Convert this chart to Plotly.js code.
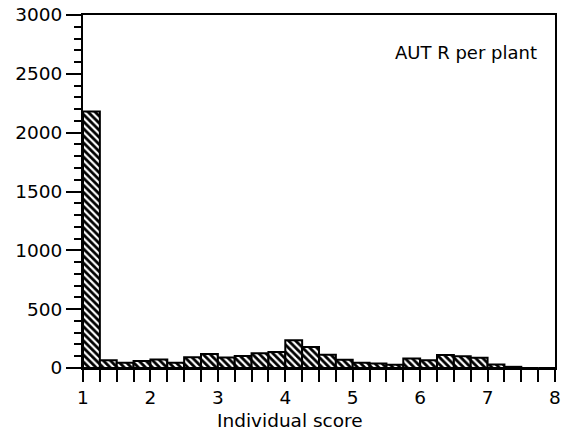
<!DOCTYPE html>
<html>
<head>
<meta charset="utf-8">
<script src="https://cdn.plot.ly/plotly-3.0.1.min.js"></script>
<style>
html,body{margin:0;padding:0;background:#fff;}
#chart{width:568px;height:439px;}
</style>
</head>
<body>
<div id="chart"></div>
<script>
// Bin centres (individual score) and counts
var binCentres = [1.125, 1.375, 1.625, 1.875, 2.125, 2.375, 2.625, 2.875,
                  3.125, 3.375, 3.625, 3.875, 4.125, 4.375, 4.625, 4.875,
                  5.125, 5.375, 5.625, 5.875, 6.125, 6.375, 6.625, 6.875,
                  7.125, 7.375, 7.625, 7.875];
var counts = [2180, 65, 45, 60, 72, 45, 92, 118,
              90, 102, 125, 137, 235, 178, 112, 70,
              45, 38, 28, 80, 65, 110, 100, 88,
              30, 10, 0, 0];
var xTickVals = [1, 2, 3, 4, 5, 6, 7, 8];
var xTickText = ['1', '2', '3', '4', '5', '6', '7', '8'];
var yTickVals = [0, 500, 1000, 1500, 2000, 2500, 3000];
var yTickText = ['0', '500', '1000', '1500', '2000', '2500', '3000'];
var panelLabel = 'AUT R per plant';
var xTitle = 'Individual score';

var FONT = 'DejaVu Sans, Arial, sans-serif';

var trace = {
  type: 'bar',
  x: binCentres,
  y: counts,
  width: 0.25,
  marker: {
    color: '#ffffff',
    line: {color: '#000000', width: 2},
    pattern: {shape: '\\', fgcolor: '#000000', bgcolor: '#ffffff', size: 5, solidity: 0.55}
  },
  hoverinfo: 'x+y'
};

var layout = {
  width: 568,
  height: 439,
  margin: {l: 83, r: 13, t: 15, b: 71},
  paper_bgcolor: '#ffffff',
  plot_bgcolor: '#ffffff',
  showlegend: false,
  bargap: 0,
  font: {family: FONT, size: 18.5, color: '#000'},
  xaxis: {
    range: [1, 8],
    tickmode: 'array',
    tickvals: xTickVals,
    ticktext: xTickText,
    ticks: 'outside',
    ticklen: 12,
    tickwidth: 2,
    tickcolor: '#000',
    minor: {dtick: 0.25, tick0: 1, ticks: 'outside', ticklen: 12, tickwidth: 2, tickcolor: '#000', showgrid: false},
    showgrid: false,
    zeroline: false,
    showline: true,
    linecolor: '#000',
    linewidth: 2,
    mirror: true,
    tickfont: {family: FONT, size: 18.5, color: '#000'}
  },
  yaxis: {
    range: [0, 3000],
    tickmode: 'array',
    tickvals: yTickVals,
    ticktext: yTickText,
    ticks: 'outside',
    ticklen: 15,
    tickwidth: 2,
    tickcolor: '#000',
    minor: {dtick: 100, tick0: 0, ticks: 'outside', ticklen: 7, tickwidth: 2, tickcolor: '#000', showgrid: false},
    showgrid: false,
    zeroline: false,
    showline: true,
    linecolor: '#000',
    linewidth: 2,
    mirror: true,
    tickfont: {family: FONT, size: 18.5, color: '#000'}
  },
  annotations: [
    {
      text: panelLabel,
      xref: 'paper', yref: 'paper',
      x: 0.967, y: 0.895,
      xanchor: 'right', yanchor: 'middle',
      showarrow: false,
      font: {family: FONT, size: 18, color: '#000'}
    },
    {
      text: xTitle,
      xref: 'paper', yref: 'paper',
      x: 0.438, y: -0.15,
      xanchor: 'center', yanchor: 'middle',
      showarrow: false,
      font: {family: FONT, size: 18.5, color: '#000'}
    }
  ]
};

Plotly.newPlot('chart', [trace], layout, {displayModeBar: false, staticPlot: true});
</script>
</body>
</html>
